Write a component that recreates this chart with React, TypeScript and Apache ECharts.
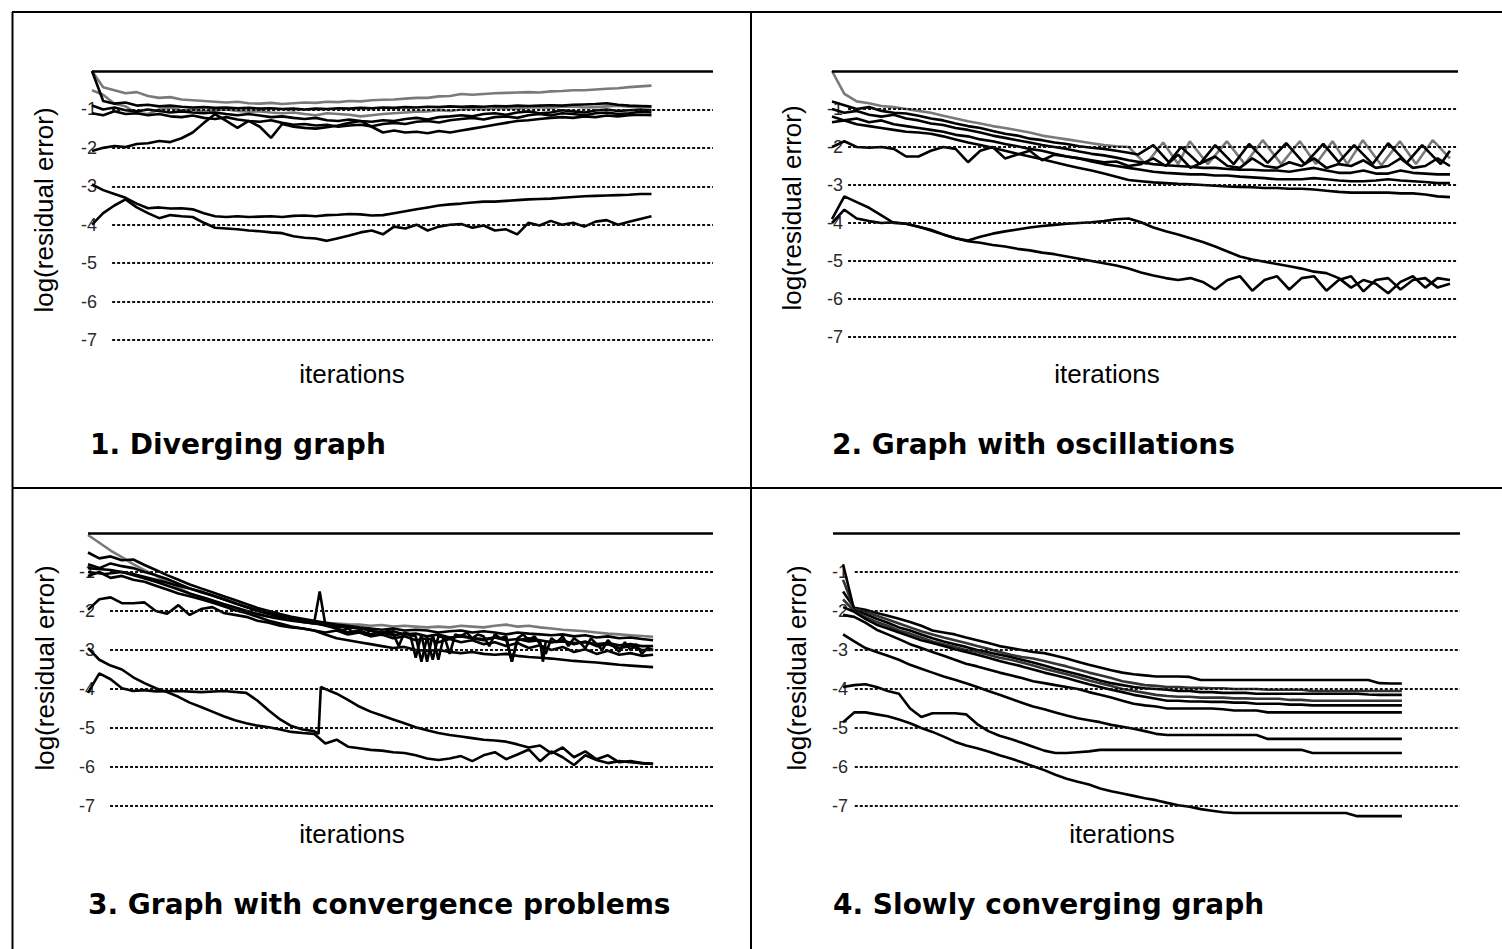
import React, { useEffect, useRef } from "react";
import * as echarts from "echarts";

// Iteration numbers shared by most curves (0..100, step 2)
const iterations = [
  0, 2, 4, 6, 8, 10, 12, 14, 16, 18, 20, 22, 24, 26, 28, 30, 32, 34, 36, 38, 40,
  42, 44, 46, 48, 50, 52, 54, 56, 58, 60, 62, 64, 66, 68, 70, 72, 74, 76, 78, 80,
  82, 84, 86, 88, 90, 92, 94, 96, 98, 100,
];

// Gridline levels of log(residual error)
const gridLevels = [-1, -2, -3, -4, -5, -6, -7];

// ---- 1. Diverging graph ----
const divTop = [
  0, -0.42, -0.5, -0.58, -0.55, -0.65, -0.7, -0.68, -0.74, -0.76,
  -0.78, -0.8, -0.82, -0.8, -0.84, -0.85, -0.83, -0.86, -0.84, -0.82,
  -0.83, -0.8, -0.81, -0.78, -0.79, -0.76, -0.75, -0.74, -0.72, -0.7,
  -0.7, -0.66, -0.65, -0.6, -0.62, -0.6, -0.58, -0.57, -0.56, -0.55,
  -0.56, -0.53, -0.52, -0.5, -0.5, -0.48, -0.46, -0.45, -0.42, -0.4,
  -0.38,
];
const divB = [
  0, -0.78, -0.85, -0.82, -0.9, -0.88, -0.92, -0.9, -0.93, -0.95,
  -0.94, -0.96, -0.95, -0.97, -0.96, -0.98, -0.97, -0.99, -0.98, -1.0,
  -0.98, -0.99, -0.97, -0.98, -0.96, -0.97, -0.95, -0.96, -0.94, -0.95,
  -0.93, -0.94, -0.92, -0.93, -0.92, -0.93, -0.91, -0.92, -0.9, -0.91,
  -0.9, -0.89, -0.9, -0.88, -0.87, -0.86, -0.84, -0.88, -0.9, -0.91,
  -0.92,
];
const divC = [
  -0.9, -1.0, -0.95, -1.02, -1.05, -1.0, -1.04, -1.08, -1.05, -1.08,
  -1.1, -1.08, -1.12, -1.15, -1.12, -1.16, -1.2, -1.18, -1.22, -1.25,
  -1.22, -1.28, -1.3, -1.26, -1.3, -1.32, -1.28, -1.3, -1.25, -1.22,
  -1.26, -1.2, -1.18, -1.15, -1.18, -1.12, -1.1, -1.14, -1.08, -1.05,
  -1.1, -1.08, -1.02, -1.05, -1.08, -1.03, -1.0, -1.04, -1.02, -1.0,
  -1.02,
];
const divD = [
  -1.1, -1.15, -1.05, -1.12, -1.1, -1.15, -1.12, -1.18, -1.2, -1.16,
  -1.22, -1.25, -1.2, -1.26, -1.3, -1.32, -1.28, -1.35, -1.4, -1.38,
  -1.42, -1.4, -1.45, -1.42, -1.4, -1.44, -1.38, -1.35, -1.38, -1.32,
  -1.3, -1.34, -1.28, -1.25, -1.22, -1.26, -1.2, -1.18, -1.22, -1.15,
  -1.12, -1.16, -1.1, -1.12, -1.15, -1.1, -1.08, -1.12, -1.1, -1.06,
  -1.08,
];
const divWavy = [
  -2.08, -2.0, -1.95, -1.98, -1.9, -1.88, -1.82, -1.85, -1.75, -1.6,
  -1.35, -1.12, -1.3, -1.48, -1.3, -1.45, -1.74, -1.38, -1.45, -1.48,
  -1.5, -1.46, -1.42, -1.35, -1.3, -1.45, -1.6, -1.55, -1.6, -1.58,
  -1.62, -1.56, -1.6, -1.55, -1.5, -1.45, -1.4, -1.35, -1.3, -1.28,
  -1.25, -1.22, -1.2, -1.22, -1.18, -1.2, -1.16, -1.18, -1.15, -1.14,
  -1.15,
];
const divMid = [
  -0.5, -0.62, -0.85, -0.92, -1.1, -1.12, -1.0, -0.95, -1.02, -1.0,
  -1.05, -1.02, -1.0, -1.04, -1.06, -1.05, -1.08, -1.1, -1.08, -1.12,
  -1.15, -1.1, -1.12, -1.14, -1.18, -1.15, -1.12, -1.1, -1.08, -1.06,
  -1.05, -1.02, -1.04, -1.0, -0.98, -1.0, -0.97, -0.96, -0.98, -0.95,
  -0.94, -0.96, -0.93, -0.92, -0.95, -0.94, -0.92, -0.9, -0.93, -0.92,
  -0.94,
];
const divLowUpper = [
  -2.95, -3.1, -3.2, -3.3, -3.45, -3.57, -3.55, -3.58, -3.57, -3.6,
  -3.7, -3.78, -3.8, -3.78, -3.8, -3.79, -3.78, -3.8, -3.77, -3.76,
  -3.78, -3.75, -3.74, -3.72, -3.73, -3.76, -3.75, -3.7, -3.65, -3.6,
  -3.55, -3.5, -3.47, -3.45, -3.42, -3.4, -3.4, -3.38, -3.36, -3.34,
  -3.33, -3.32, -3.3, -3.28, -3.26, -3.25, -3.24, -3.23, -3.22, -3.2,
  -3.2,
];
const divLowLower = [
  -4.0, -3.7, -3.5, -3.34, -3.55, -3.7, -3.83, -3.75, -3.78, -3.8,
  -3.95, -4.08, -4.1, -4.12, -4.15, -4.17, -4.2, -4.22, -4.3, -4.34,
  -4.36, -4.42, -4.35, -4.28, -4.2, -4.15, -4.25, -4.05, -4.1, -4.0,
  -4.15, -4.05, -4.0, -3.98, -4.08, -4.02, -4.15, -4.12, -4.25, -3.95,
  -4.02, -3.9, -4.0, -3.95, -4.05, -3.92, -3.88, -4.0, -3.92, -3.85,
  -3.78,
];

// ---- 2. Graph with oscillations ----
const oscAIter = [
  0, 2, 4, 6, 8, 10, 12, 14, 16, 18, 20, 22, 24, 26, 28, 30, 32, 34, 36, 38,
  40, 42, 44, 46, 48, 50.8, 53.6, 56, 57.9, 60.8, 63.9, 66.8, 69.7, 72.7, 75.7,
  78.3, 81, 83.4, 85.9, 88.9, 91.9, 94.5, 97.2, 100,
];
const oscA = [
  0, -0.6, -0.8, -0.85, -0.92, -0.95, -1.0, -1.05, -1.1, -1.18,
  -1.25, -1.32, -1.38, -1.45, -1.5, -1.56, -1.62, -1.7, -1.75, -1.8,
  -1.85, -1.9, -1.95, -1.98, -2.0, -2.45, -1.88, -2.45, -1.85, -2.45,
  -1.85, -2.45, -1.82, -2.45, -1.85, -2.45, -1.85, -2.45, -1.82, -2.48,
  -1.85, -2.45, -1.82, -2.3,
];
const oscBIter = [
  0, 2, 4, 6, 8, 10, 12, 14, 16, 18, 20, 22, 24, 26, 28, 30, 32, 34, 36, 38,
  40, 42, 44, 46, 48, 49.5, 52, 54.5, 56.5, 59.5, 62, 65, 67.5, 70.5, 73.5,
  76.5, 79.5, 82, 84.5, 87.5, 90, 93, 95.5, 98.5, 100,
];
const oscB = [
  -0.8, -0.9, -1.0, -0.95, -1.05, -1.1, -1.12, -1.18, -1.25, -1.3,
  -1.38, -1.45, -1.5, -1.58, -1.65, -1.7, -1.78, -1.82, -1.88, -1.92,
  -1.98, -2.02, -2.05, -2.1, -2.15, -2.2, -1.95, -2.4, -2.0, -2.45,
  -1.95, -2.45, -1.92, -2.42, -1.9, -2.45, -1.92, -2.4, -1.95, -2.45,
  -1.9, -2.42, -1.95, -2.45, -2.1,
];
const oscC = [
  -1.0, -1.1, -1.05, -1.15, -1.2, -1.15, -1.25, -1.3, -1.38, -1.42,
  -1.5, -1.55, -1.62, -1.7, -1.76, -1.82, -1.88, -1.95, -2.0, -2.05,
  -2.12, -2.18, -2.22, -2.28, -2.35, -2.4, -2.45, -2.48, -2.5, -2.52,
  -2.55, -2.55, -2.58, -2.6, -2.6, -2.62, -2.62, -2.65, -2.6, -2.55,
  -2.62, -2.68, -2.68, -2.62, -2.7, -2.7, -2.62, -2.68, -2.7, -2.72,
  -2.72,
];
const oscD = [
  -1.2, -1.3, -1.25, -1.35, -1.3, -1.4, -1.45, -1.5, -1.55, -1.6,
  -1.68, -1.72, -1.8, -1.85, -1.92, -1.98, -2.05, -2.1, -2.18, -2.25,
  -2.3, -2.38, -2.45, -2.5, -2.55, -2.6, -2.65, -2.68, -2.7, -2.72,
  -2.72, -2.75, -2.75, -2.78, -2.8, -2.82, -2.85, -2.85, -2.85, -2.82,
  -2.85, -2.88, -2.9, -2.9, -2.88, -2.85, -2.88, -2.9, -2.92, -2.95,
  -2.95,
];
const oscE = [
  -1.35, -1.3, -1.4, -1.45, -1.5, -1.55, -1.6, -1.62, -1.65, -1.72,
  -1.8, -1.88, -1.95, -2.02, -2.1, -2.18, -2.25, -2.32, -2.4, -2.48,
  -2.55, -2.62, -2.7, -2.78, -2.87, -2.9, -2.93, -2.95, -2.97, -2.98,
  -3.0, -3.02, -3.04, -3.05, -3.06, -3.08, -3.08, -3.1, -3.1, -3.12,
  -3.15, -3.18, -3.2, -3.2, -3.2, -3.2, -3.22, -3.22, -3.25, -3.3,
  -3.32,
];
const oscWavy = [
  -2.0, -1.85, -2.0, -2.02, -2.0, -2.05, -2.25, -2.25, -2.1, -2.0,
  -2.05, -2.4, -2.1, -2.0, -2.3, -2.2, -2.1, -2.35, -2.2, -2.25,
  -2.3, -2.35, -2.4, -2.38, -2.5, -2.45, -2.3, -2.5, -2.2, -2.55,
  -2.4, -2.25, -2.5, -2.55, -2.3, -2.5, -2.55, -2.4, -2.5, -2.3,
  -2.55, -2.45, -2.5, -2.35, -2.55, -2.5, -2.3, -2.55, -2.5, -2.3,
  -2.5,
];
const oscLowA = [
  -3.9, -3.3, -3.45, -3.6, -3.8, -4.0, -4.02, -4.1, -4.18, -4.3,
  -4.4, -4.48, -4.52, -4.58, -4.62, -4.68, -4.72, -4.78, -4.82, -4.88,
  -4.94, -5.0, -5.06, -5.12, -5.2, -5.3, -5.38, -5.45, -5.5, -5.45,
  -5.55, -5.75, -5.5, -5.4, -5.78, -5.5, -5.4, -5.75, -5.45, -5.4,
  -5.78, -5.5, -5.4, -5.8, -5.5, -5.45, -5.75, -5.5, -5.45, -5.7,
  -5.6,
];
const oscLowB = [
  -4.0, -3.65, -3.88, -3.95, -4.0, -3.98, -4.02, -4.1, -4.2, -4.3,
  -4.4, -4.46, -4.36, -4.28, -4.22, -4.17, -4.12, -4.08, -4.05, -4.02,
  -4.0, -3.98, -3.95, -3.9, -3.88, -3.98, -4.12, -4.22, -4.3, -4.4,
  -4.5, -4.62, -4.75, -4.88, -4.96, -5.02, -5.08, -5.14, -5.2, -5.28,
  -5.32, -5.45, -5.7, -5.5, -5.6, -5.85, -5.55, -5.4, -5.7, -5.45,
  -5.5,
];

// ---- 3. Graph with convergence problems ----
const convA = [
  -0.05, -0.25, -0.45, -0.62, -0.8, -0.95, -1.1, -1.25, -1.4, -1.55,
  -1.68, -1.78, -1.87, -1.95, -2.02, -2.08, -2.14, -2.18, -2.22, -2.25,
  -2.28, -2.3, -2.32, -2.34, -2.35, -2.38, -2.36, -2.4, -2.38, -2.4,
  -2.42, -2.4, -2.42, -2.38, -2.4, -2.42, -2.38, -2.35, -2.4, -2.38,
  -2.42, -2.45, -2.48, -2.5, -2.52, -2.55, -2.58, -2.6, -2.62, -2.64,
  -2.66,
];
const convB = [
  -0.5, -0.65, -0.6, -0.7, -0.68, -0.82, -0.95, -1.08, -1.2, -1.32,
  -1.42, -1.52, -1.62, -1.72, -1.82, -1.92, -2.0, -2.08, -2.15, -2.2,
  -2.25, -2.3, -2.35, -2.38, -2.42, -2.45, -2.48, -2.45, -2.5, -2.48,
  -2.5, -2.55, -2.52, -2.5, -2.55, -2.52, -2.55, -2.6, -2.55, -2.58,
  -2.6, -2.62, -2.6, -2.65, -2.62, -2.68, -2.65, -2.7, -2.68, -2.72,
  -2.75,
];
const convC = [
  -0.8, -0.9, -0.78, -0.85, -0.9, -1.0, -1.08, -1.18, -1.3, -1.42,
  -1.52, -1.6, -1.7, -1.8, -1.9, -2.0, -2.08, -2.16, -2.22, -2.28,
  -2.32, -2.36, -2.4, -2.42, -2.45, -2.5, -2.55, -2.52, -2.6, -2.58,
  -2.65, -2.6, -2.68, -2.65, -2.7, -2.72, -2.68, -2.75, -2.72, -2.78,
  -2.75, -2.8, -2.78, -2.82, -2.8, -2.85, -2.82, -2.88, -2.85, -2.9,
  -2.9,
];
const convE = [
  -1.1, -1.0, -1.15, -1.1, -1.2, -1.25, -1.35, -1.45, -1.55, -1.62,
  -1.7, -1.78, -1.88, -1.98, -2.05, -2.15, -2.25, -2.32, -2.4, -2.45,
  -2.5, -2.6, -2.7, -2.75, -2.8, -2.85, -2.9, -2.95, -2.92, -3.0,
  -3.02, -3.0, -3.05, -3.08, -3.05, -3.1, -3.12, -3.1, -3.15, -3.18,
  -3.2, -3.22, -3.25, -3.28, -3.3, -3.32, -3.35, -3.38, -3.4, -3.42,
  -3.44,
];
const convWavy = [
  -1.97, -1.7, -1.65, -1.8, -1.8, -1.78, -2.0, -2.07, -1.85, -2.1,
  -1.95, -1.9, -2.05, -2.1, -2.15, -2.25, -2.3, -2.38, -2.42, -2.45,
  -2.5, -2.55, -2.5, -2.6, -2.55, -2.65, -2.6, -2.7, -2.65, -2.75,
  -2.7, -2.8, -2.72, -2.8, -2.75, -2.85, -2.8, -2.9, -2.82, -2.95,
  -2.88, -3.0, -2.92, -3.05, -2.98, -3.1, -3.02, -3.12, -3.08, -3.15,
  -3.12,
];
const convSpikeIter = [
  0, 3, 6, 9, 12, 15, 18, 21, 24, 27, 30, 33, 36, 39, 40, 41, 42, 44, 46, 48,
  50, 52, 54, 56, 58, 59, 60, 61, 62, 64, 66, 68, 70, 72, 74, 75, 76, 78, 80,
  80.5, 81, 82, 84, 86, 88, 90, 92, 94, 96, 98, 100,
];
const convSpike = [
  -1.0, -1.05, -1.0, -1.12, -1.25, -1.4, -1.55, -1.68, -1.82, -1.95, -2.08,
  -2.18, -2.25, -2.3, -2.32, -1.5, -2.35, -2.45, -2.55, -2.5, -2.6, -2.55,
  -2.62, -2.58, -2.65, -3.3, -2.68, -3.25, -2.65, -2.7, -2.62, -2.7, -2.75,
  -2.68, -2.72, -3.3, -2.75, -2.7, -2.75, -3.3, -2.78, -2.8, -2.75, -2.85,
  -2.78, -2.9, -2.85, -2.95, -2.9, -3.0, -3.0,
];
const convNoiseIter = [
  0, 4, 8, 12, 16, 20, 24, 28, 32, 36, 40,
  44, 45, 46, 47, 48, 49, 50, 51, 52, 53, 54, 55, 56, 57, 58, 59, 60, 61, 62,
  63, 64, 65, 66, 67, 68, 69, 70, 71, 72, 73, 74, 75, 76, 77, 78, 79, 80, 81,
  82, 83, 84, 85, 86, 87, 88, 89, 90, 91, 92, 93, 94, 95, 96, 97, 98, 99, 100,
];
const convNoise = [
  -0.9, -0.95, -1.05, -1.2, -1.35, -1.5, -1.7, -1.9, -2.05, -2.2, -2.3,
  -2.45, -2.5, -2.45, -2.55, -2.5, -2.6, -2.5, -2.55, -2.62, -2.5,
  -2.58, -2.9, -2.55, -2.6, -3.2, -2.6, -3.3, -2.6, -3.25, -2.62,
  -3.1, -2.6, -2.65, -2.55, -2.7, -2.6, -2.65, -2.9, -2.6, -2.7,
  -2.65, -3.3, -2.7, -2.6, -2.75, -2.65, -2.85, -3.1, -2.7, -2.8,
  -2.65, -2.9, -2.7, -2.8, -2.95, -2.7, -2.85, -3.0, -2.75, -2.9,
  -3.05, -2.8, -3.0, -2.85, -3.1, -2.95, -3.0,
];
const convLowA = [
  -2.95, -3.25, -3.4, -3.5, -3.7, -3.85, -3.98, -4.08, -4.2, -4.35,
  -4.46, -4.58, -4.7, -4.8, -4.88, -4.94, -4.98, -5.04, -5.1, -5.13,
  -5.15, -5.4, -5.3, -5.48, -5.52, -5.56, -5.58, -5.62, -5.64, -5.7,
  -5.78, -5.82, -5.78, -5.72, -5.85, -5.7, -5.62, -5.8, -5.68, -5.55,
  -5.85, -5.6, -5.75, -5.95, -5.7, -5.82, -5.9, -5.85, -5.88, -5.9,
  -5.92,
];
const convJumpIter = [
  0, 2, 4, 6, 8, 10, 12, 16, 20, 24, 28, 30, 32, 34, 36, 38, 40, 40.8, 41.2,
  42, 44, 46, 48, 50, 52, 54, 56, 58, 60, 62, 64, 66, 68, 70, 72, 74, 76, 78,
  80, 82, 84, 86, 88, 90, 92, 94, 96, 98, 100,
];
const convJump = [
  -4.1, -3.6, -3.75, -3.98, -4.05, -4.03, -4.06, -4.05, -4.08, -4.05, -4.1,
  -4.3, -4.55, -4.78, -4.95, -5.04, -5.08, -5.15, -3.95,
  -4.0, -4.12, -4.28, -4.45, -4.58, -4.68, -4.78, -4.88, -4.98, -5.06,
  -5.13, -5.18, -5.22, -5.26, -5.3, -5.32, -5.35, -5.42, -5.5, -5.45,
  -5.65, -5.5, -5.75, -5.6, -5.8, -5.7, -5.88, -5.85, -5.9, -5.92,
];

// ---- 4. Slowly converging graph ----
const slowA = [
  -1.5, -1.92, -1.97, -2.05, -2.12, -2.2, -2.28, -2.38, -2.5, -2.55,
  -2.6, -2.68, -2.75, -2.82, -2.9, -2.95, -3.0, -3.05, -3.08, -3.15,
  -3.22, -3.3, -3.38, -3.45, -3.52, -3.58, -3.62, -3.65, -3.68, -3.68,
  -3.68, -3.69, -3.77, -3.77, -3.77, -3.77, -3.77, -3.77, -3.77, -3.77,
  -3.77, -3.77, -3.77, -3.77, -3.77, -3.77, -3.77, -3.77, -3.85, -3.86,
  -3.86,
];
const slowB = [
  -1.2, -1.95, -2.02, -2.12, -2.22, -2.32, -2.42, -2.52, -2.6, -2.68,
  -2.75, -2.82, -2.9, -2.97, -3.05, -3.12, -3.18, -3.22, -3.28, -3.35,
  -3.42, -3.5, -3.58, -3.65, -3.72, -3.8, -3.85, -3.9, -3.92, -3.95,
  -3.95, -3.97, -3.97, -3.98, -3.98, -4.0, -4.0, -4.0, -4.02, -4.02,
  -4.02, -4.02, -4.05, -4.05, -4.05, -4.05, -4.05, -4.05, -4.05, -4.05,
  -4.05,
];
const slowC = [
  -0.8, -1.98, -2.08, -2.2, -2.3, -2.42, -2.5, -2.6, -2.7, -2.78,
  -2.85, -2.92, -3.0, -3.06, -3.12, -3.18, -3.25, -3.32, -3.4, -3.48,
  -3.55, -3.62, -3.7, -3.78, -3.85, -3.9, -3.95, -3.98, -4.0, -4.02,
  -4.05, -4.05, -4.08, -4.08, -4.1, -4.1, -4.1, -4.12, -4.12, -4.12,
  -4.12, -4.12, -4.12, -4.12, -4.12, -4.12, -4.12, -4.14, -4.15, -4.15,
  -4.15,
];
const slowD = [
  -1.7, -2.0, -2.15, -2.28, -2.38, -2.5, -2.58, -2.68, -2.78, -2.85,
  -2.92, -3.0, -3.05, -3.12, -3.2, -3.25, -3.32, -3.4, -3.48, -3.55,
  -3.62, -3.7, -3.78, -3.85, -3.92, -4.0, -4.05, -4.1, -4.15, -4.18,
  -4.2, -4.2, -4.22, -4.22, -4.22, -4.24, -4.24, -4.25, -4.25, -4.25,
  -4.28, -4.28, -4.3, -4.3, -4.3, -4.3, -4.3, -4.3, -4.3, -4.3,
  -4.3,
];
const slowE = [
  -1.9, -2.02, -2.2, -2.35, -2.45, -2.55, -2.65, -2.75, -2.82, -2.9,
  -2.98, -3.05, -3.12, -3.2, -3.28, -3.35, -3.42, -3.5, -3.58, -3.65,
  -3.72, -3.8, -3.88, -3.95, -4.02, -4.08, -4.15, -4.2, -4.25, -4.3,
  -4.3, -4.32, -4.32, -4.33, -4.33, -4.35, -4.35, -4.38, -4.38, -4.38,
  -4.4, -4.4, -4.42, -4.42, -4.42, -4.42, -4.42, -4.42, -4.42, -4.42,
  -4.42,
];
const slowF = [
  -2.1, -2.15, -2.3, -2.48, -2.6, -2.72, -2.85, -2.95, -3.05, -3.15,
  -3.25, -3.35, -3.42, -3.5, -3.58, -3.65, -3.72, -3.8, -3.85, -3.9,
  -3.95, -4.0, -4.08, -4.15, -4.22, -4.3, -4.38, -4.42, -4.45, -4.5,
  -4.5, -4.5, -4.5, -4.5, -4.52, -4.55, -4.55, -4.55, -4.6, -4.6,
  -4.6, -4.6, -4.6, -4.6, -4.6, -4.6, -4.6, -4.6, -4.6, -4.6,
  -4.6,
];
const slowG = [
  -2.6, -2.78, -2.95, -3.05, -3.15, -3.25, -3.38, -3.48, -3.58, -3.68,
  -3.76, -3.85, -3.95, -4.05, -4.15, -4.25, -4.35, -4.45, -4.52, -4.6,
  -4.68, -4.75, -4.8, -4.85, -4.92, -4.97, -5.02, -5.08, -5.15, -5.18,
  -5.18, -5.18, -5.18, -5.18, -5.18, -5.18, -5.18, -5.18, -5.28, -5.28,
  -5.28, -5.28, -5.28, -5.28, -5.28, -5.28, -5.28, -5.28, -5.28, -5.28,
  -5.28,
];
const slowH = [
  -3.95, -3.9, -3.88, -3.95, -4.05, -4.12, -4.5, -4.72, -4.62, -4.62,
  -4.62, -4.65, -4.9, -5.08, -5.2, -5.28, -5.38, -5.48, -5.58, -5.64,
  -5.64, -5.62, -5.6, -5.56, -5.56, -5.56, -5.56, -5.56, -5.56, -5.56,
  -5.56, -5.56, -5.56, -5.56, -5.56, -5.56, -5.56, -5.56, -5.56, -5.56,
  -5.56, -5.56, -5.64, -5.64, -5.64, -5.64, -5.64, -5.64, -5.64, -5.64,
  -5.64,
];
const slowI = [
  -4.85, -4.6, -4.6, -4.65, -4.7, -4.78, -4.88, -5.0, -5.1, -5.22,
  -5.35, -5.45, -5.52, -5.6, -5.7, -5.78, -5.88, -5.98, -6.08, -6.2,
  -6.3, -6.38, -6.45, -6.55, -6.62, -6.68, -6.74, -6.8, -6.85, -6.92,
  -6.98, -7.02, -7.08, -7.12, -7.16, -7.18, -7.18, -7.18, -7.18, -7.18,
  -7.18, -7.18, -7.18, -7.18, -7.18, -7.18, -7.26, -7.26, -7.26, -7.26,
  -7.26,
];

const titles = [
  "1. Diverging graph",
  "2. Graph with oscillations",
  "3. Graph with convergence problems",
  "4. Slowly converging graph",
];

const INK = "#000";
const GREY = "#7a7a7a";

type Curve = { iters: number[]; values: number[]; color?: string };

const panels = [
  {
    grid: { left: 92, top: 71, width: 621, height: 269 },
    xMin: 0, xMax: 111, gridFrom: 3.6, labelMargin: -5,
    yName: [44, 210], xName: [352, 374], titlePos: [90, 444],
    curves: [
      { iters: iterations, values: divTop, color: GREY },
      { iters: iterations, values: divMid, color: GREY },
      { iters: iterations, values: divB },
      { iters: iterations, values: divC },
      { iters: iterations, values: divD },
      { iters: iterations, values: divWavy },
      { iters: iterations, values: divLowUpper },
      { iters: iterations, values: divLowLower },
    ] as Curve[],
  },
  {
    grid: { left: 832, top: 71, width: 626, height: 266 },
    xMin: 0, xMax: 101.3, gridFrom: 2.6, labelMargin: -11,
    yName: [792, 208], xName: [1107, 374], titlePos: [832, 444],
    curves: [
      { iters: oscAIter, values: oscA, color: GREY },
      { iters: oscBIter, values: oscB },
      { iters: iterations, values: oscC },
      { iters: iterations, values: oscD },
      { iters: iterations, values: oscE },
      { iters: iterations, values: oscWavy },
      { iters: iterations, values: oscLowA },
      { iters: iterations, values: oscLowB },
    ] as Curve[],
  },
  {
    grid: { left: 88, top: 533, width: 625, height: 273 },
    xMin: 0, xMax: 110.6, gridFrom: 3.9, labelMargin: -7,
    yName: [45, 668], xName: [352, 834], titlePos: [88, 904],
    curves: [
      { iters: iterations, values: convA, color: GREY },
      { iters: iterations, values: convB },
      { iters: iterations, values: convC },
      { iters: iterations, values: convE },
      { iters: iterations, values: convWavy },
      { iters: convSpikeIter, values: convSpike },
      { iters: convNoiseIter, values: convNoise },
      { iters: iterations, values: convLowA },
      { iters: convJumpIter, values: convJump },
    ] as Curve[],
  },
  {
    grid: { left: 833, top: 533, width: 627, height: 273 },
    xMin: -1.8, xMax: 110.4, gridFrom: 2.1, labelMargin: -15,
    yName: [797, 668], xName: [1122, 834], titlePos: [833, 904],
    curves: [
      { iters: iterations, values: slowA },
      { iters: iterations, values: slowB, color: "#333" },
      { iters: iterations, values: slowC },
      { iters: iterations, values: slowD, color: "#333" },
      { iters: iterations, values: slowE },
      { iters: iterations, values: slowF },
      { iters: iterations, values: slowG },
      { iters: iterations, values: slowH },
      { iters: iterations, values: slowI },
    ] as Curve[],
  },
];

function textEl(text: string, x: number, y: number, font: string, align: string, rotation = 0) {
  return {
    type: "text",
    x,
    y,
    rotation,
    silent: true,
    style: {
      text,
      font,
      fill: INK,
      align,
      verticalAlign: "middle",
      textAlign: align,
      textVerticalAlign: "middle",
    },
  };
}

function lineEl(x1: number, y1: number, x2: number, y2: number) {
  return {
    type: "line",
    silent: true,
    shape: { x1, y1, x2, y2 },
    style: { stroke: INK, lineWidth: 2 },
  };
}

function buildOption() {
  const grid: any[] = [];
  const xAxis: any[] = [];
  const yAxis: any[] = [];
  const series: any[] = [];
  const graphic: any[] = [
    lineEl(12, 12, 1502, 12),
    lineEl(12.5, 12, 12.5, 949),
    lineEl(751, 12, 751, 949),
    lineEl(12, 488, 1502, 488),
  ];

  panels.forEach((p, k) => {
    grid.push({ ...p.grid, containLabel: false });
    xAxis.push({ type: "value", gridIndex: k, min: p.xMin, max: p.xMax, show: false });
    yAxis.push({
      type: "value",
      gridIndex: k,
      min: -7,
      max: 0,
      interval: 1,
      axisLine: { show: false },
      axisTick: { show: false },
      splitLine: { show: false },
      axisLabel: {
        margin: p.labelMargin,
        fontFamily: "Liberation Sans",
        fontSize: 18,
        color: "#2a2a2a",
        formatter: (v: number) => (v === 0 ? "" : String(v)),
      },
    });

    // dotted gridlines
    series.push({
      type: "line",
      xAxisIndex: k,
      yAxisIndex: k,
      data: [],
      silent: true,
      z: 1,
      markLine: {
        silent: true,
        symbol: ["none", "none"],
        label: { show: false },
        lineStyle: { color: "#111", width: 1.9, type: [3, 2] },
        data: gridLevels.map((v) => [{ coord: [p.gridFrom, v] }, { coord: [p.xMax, v] }]),
      },
    });
    // solid zero line
    series.push({
      type: "line",
      xAxisIndex: k,
      yAxisIndex: k,
      data: [],
      silent: true,
      z: 1,
      markLine: {
        silent: true,
        symbol: ["none", "none"],
        label: { show: false },
        lineStyle: { color: INK, width: 2.6, type: "solid" },
        data: [[{ coord: [p.xMin, 0] }, { coord: [p.xMax, 0] }]],
      },
    });

    p.curves.forEach((c) => {
      series.push({
        type: "line",
        xAxisIndex: k,
        yAxisIndex: k,
        data: c.iters.map((x, i) => [x, c.values[i]]),
        symbol: "none",
        showSymbol: false,
        clip: false,
        silent: true,
        z: 3,
        lineStyle: { color: c.color ?? INK, width: 2.6 },
      });
    });

    graphic.push(
      textEl("log(residual error)", p.yName[0], p.yName[1], '26px "Liberation Sans", Arial, sans-serif', "center", Math.PI / 2)
    );
    graphic.push(textEl("iterations", p.xName[0], p.xName[1], '26px "Liberation Sans", Arial, sans-serif', "center"));
    graphic.push(
      textEl(titles[k], p.titlePos[0], p.titlePos[1], 'bold 28px "DejaVu Sans", Verdana, sans-serif', "left")
    );
  });

  return {
    animation: false,
    backgroundColor: "#fff",
    grid,
    xAxis,
    yAxis,
    series,
    graphic,
  };
}

export default function App() {
  const ref = useRef<HTMLDivElement>(null);
  useEffect(() => {
    if (!ref.current) return;
    const chart = echarts.init(ref.current, null, { renderer: "svg" });
    chart.setOption(buildOption() as any);
    return () => chart.dispose();
  }, []);
  return (
    <div
      ref={ref}
      style={{ position: "absolute", left: 0, top: 0, width: 1502, height: 949, background: "#fff" }}
    />
  );
}
